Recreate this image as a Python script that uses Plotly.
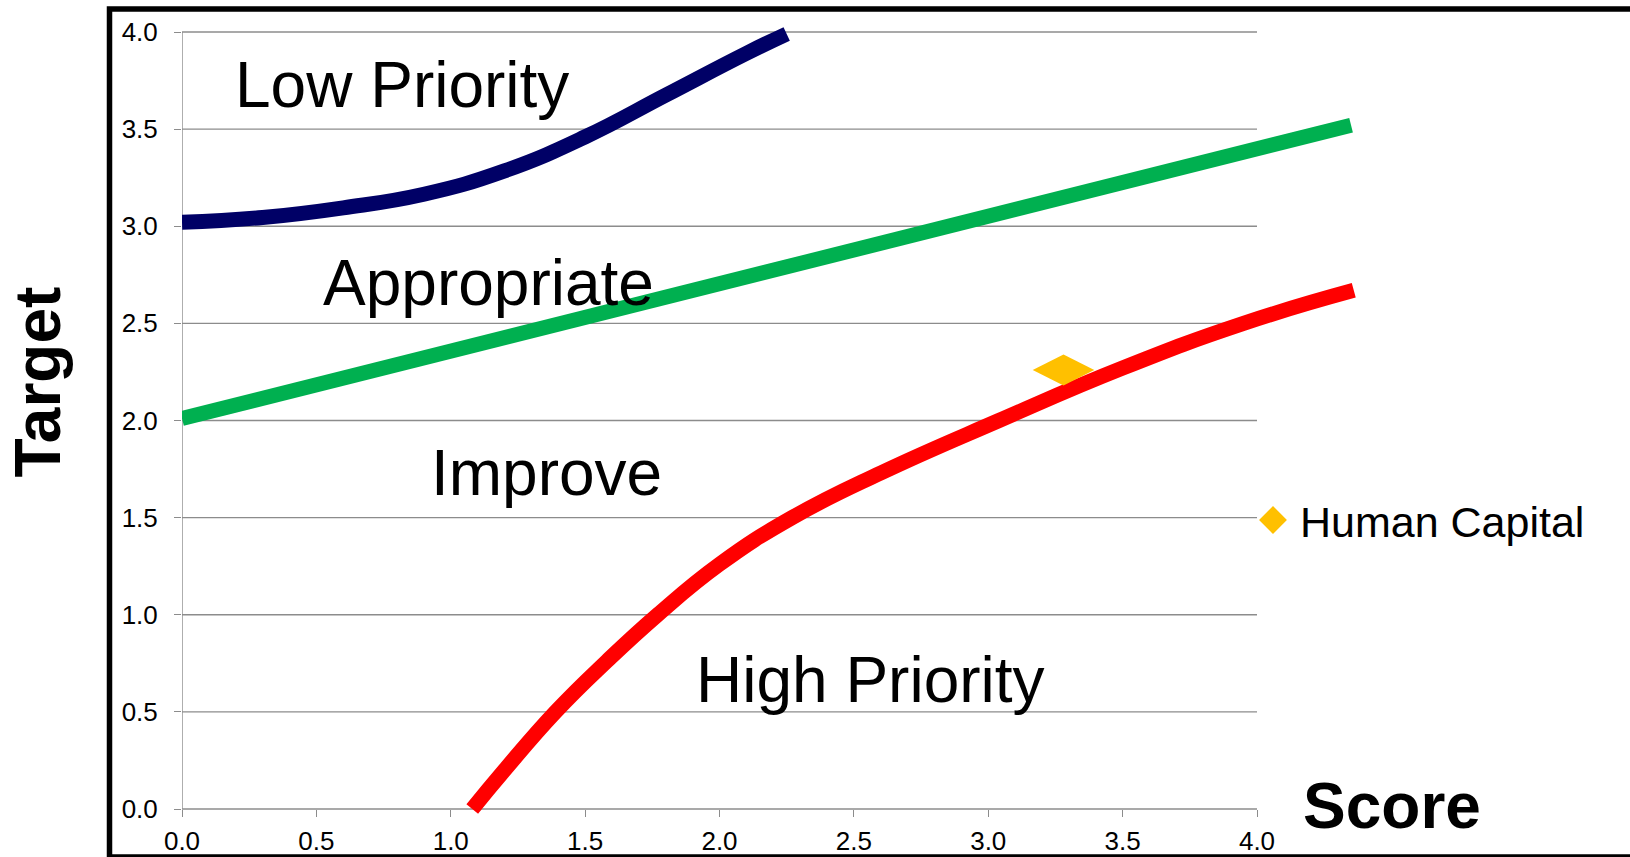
import plotly.graph_objects as go

# ---- data -------------------------------------------------------------
score_ticks = [0.0, 0.5, 1.0, 1.5, 2.0, 2.5, 3.0, 3.5, 4.0]
target_ticks = [0.0, 0.5, 1.0, 1.5, 2.0, 2.5, 3.0, 3.5, 4.0]

# upper boundary (Low Priority / Appropriate)
low_x = [0.0, 0.3, 0.6, 0.9, 1.2, 1.5, 1.8, 2.1, 2.25]
low_y = [3.02, 3.045, 3.095, 3.165, 3.285, 3.46, 3.675, 3.89, 3.99]

# middle boundary (Appropriate / Improve)
mid_x = [0.0, 4.35]
mid_y = [2.01, 3.52]

# lower boundary (Improve / High Priority)
high_x = [1.08, 1.2, 1.39, 1.58, 1.77, 2.0, 2.27, 2.6, 3.04, 3.5, 3.95, 4.36]
high_y = [0.0, 0.2, 0.5, 0.76, 1.0, 1.26, 1.5, 1.73, 2.0, 2.27, 2.5, 2.67]

point_name = "Human Capital"
point_x = [3.28]
point_y = [2.26]

region_names = ["Low Priority", "Appropriate", "Improve", "High Priority"]

# ---- layout geometry ---------------------------------------------------
W, H = 1630, 857
ML, MR, MT, MB = 182, 260, 26, 42
PLOT_W = W - ML - MR
PLOT_H = H - MT - MB
X_PX = 268.75          # pixels per score unit
Y_PX = 194.25          # pixels per target unit
Y0_PX = 809            # pixel row of target 0
x_range = [0, PLOT_W / X_PX]
y_range = [-(H - MB - Y0_PX) / Y_PX, (Y0_PX - MT) / Y_PX]


def px_x(px):
    return (px - ML) / PLOT_W


def px_y(py):
    return (H - MB - py) / PLOT_H


FONT = "Liberation Sans, Arial, Helvetica, sans-serif"
GRID = "#8C8C8C"
GOLD = "#FFC000"
LINE_W = 15

fig = go.Figure()

fig.add_trace(go.Scatter(x=low_x, y=low_y, mode="lines", showlegend=False,
                         line=dict(color="#000066", width=LINE_W, shape="spline", smoothing=1.3),
                         hoverinfo="skip"))
fig.add_trace(go.Scatter(x=mid_x, y=mid_y, mode="lines", showlegend=False,
                         line=dict(color="#00B050", width=LINE_W),
                         hoverinfo="skip"))
fig.add_trace(go.Scatter(x=high_x, y=high_y, mode="lines", showlegend=False,
                         line=dict(color="#FF0000", width=LINE_W, shape="spline", smoothing=1.3),
                         hoverinfo="skip"))
fig.add_trace(go.Scatter(x=point_x, y=point_y, mode="markers", name=point_name,
                         legendgroup="hc", showlegend=False,
                         marker=dict(symbol="diamond-wide", size=44, color=GOLD,
                                     line=dict(width=0))))
# legend entry for the point
fig.add_trace(go.Scatter(x=[None], y=[None], mode="markers", name=point_name,
                         legendgroup="hc", showlegend=True,
                         marker=dict(symbol="diamond", size=16, color=GOLD,
                                     line=dict(width=5, color=GOLD))))

# gridlines and axis lines limited to the 0..4 score span
shapes = []
for t in target_ticks:
    shapes.append(dict(type="line", xref="x", yref="y", x0=0, x1=4, y0=t, y1=t,
                       line=dict(color=GRID, width=1.4), layer="below"))
shapes.append(dict(type="line", xref="x", yref="y", x0=0, x1=0, y0=0, y1=4,
                   line=dict(color=GRID, width=1.4), layer="below"))
# outer frame
shapes.append(dict(type="rect", xref="paper", yref="paper",
                   x0=px_x(109.5), x1=px_x(1645), y0=px_y(857), y1=px_y(9),
                   line=dict(color="black", width=5.5), fillcolor="rgba(0,0,0,0)",
                   layer="above"))

annotations = []
label_pos = {
    "Low Priority": (0.819, 3.727),
    "Appropriate": (1.139, 2.710),
    "Improve": (1.356, 1.730),
    "High Priority": (2.560, 0.664),
}
for name in region_names:
    lx, ly = label_pos[name]
    annotations.append(dict(x=lx, y=ly, xref="x", yref="y", text=name, showarrow=False,
                            xanchor="center", yanchor="middle",
                            font=dict(family=FONT, size=64, color="black")))

annotations.append(dict(x=px_x(1392), y=px_y(805.8), xref="paper", yref="paper",
                        text="Score", showarrow=False, xanchor="center", yanchor="middle",
                        font=dict(family=FONT, size=64, color="black", weight="bold")))
annotations.append(dict(x=px_x(37.5), y=px_y(382), xref="paper", yref="paper",
                        text="Target", showarrow=False, textangle=-90,
                        xanchor="center", yanchor="middle",
                        font=dict(family=FONT, size=64, color="black", weight="bold")))

axis_common = dict(
    ticks="outside", ticklen=7, tickwidth=1.4, tickcolor=GRID,
    showgrid=False, zeroline=False, showline=False,
    tickfont=dict(family=FONT, size=26, color="black"),
    automargin=False, fixedrange=True,
)

fig.update_layout(
    width=W, height=H,
    margin=dict(l=ML, r=MR, t=MT, b=MB, pad=0),
    paper_bgcolor="white", plot_bgcolor="white",
    xaxis=dict(range=x_range, tickvals=score_ticks,
               ticktext=[f"{v:.1f}" for v in score_ticks],
               anchor="free", position=px_y(Y0_PX), ticklabelstandoff=2,
               **axis_common),
    yaxis=dict(range=y_range, tickvals=target_ticks,
               ticktext=[f"{v:.1f}" for v in target_ticks],
               ticklabelstandoff=11, **axis_common),
    shapes=shapes,
    annotations=annotations,
    showlegend=True,
    legend=dict(x=px_x(1246), y=px_y(520), xanchor="left", yanchor="middle",
                xref="paper", yref="paper", itemwidth=44,
                bgcolor="rgba(0,0,0,0)", borderwidth=0,
                font=dict(family=FONT, size=43, color="black")),
)

fig.write_html("out.html")
